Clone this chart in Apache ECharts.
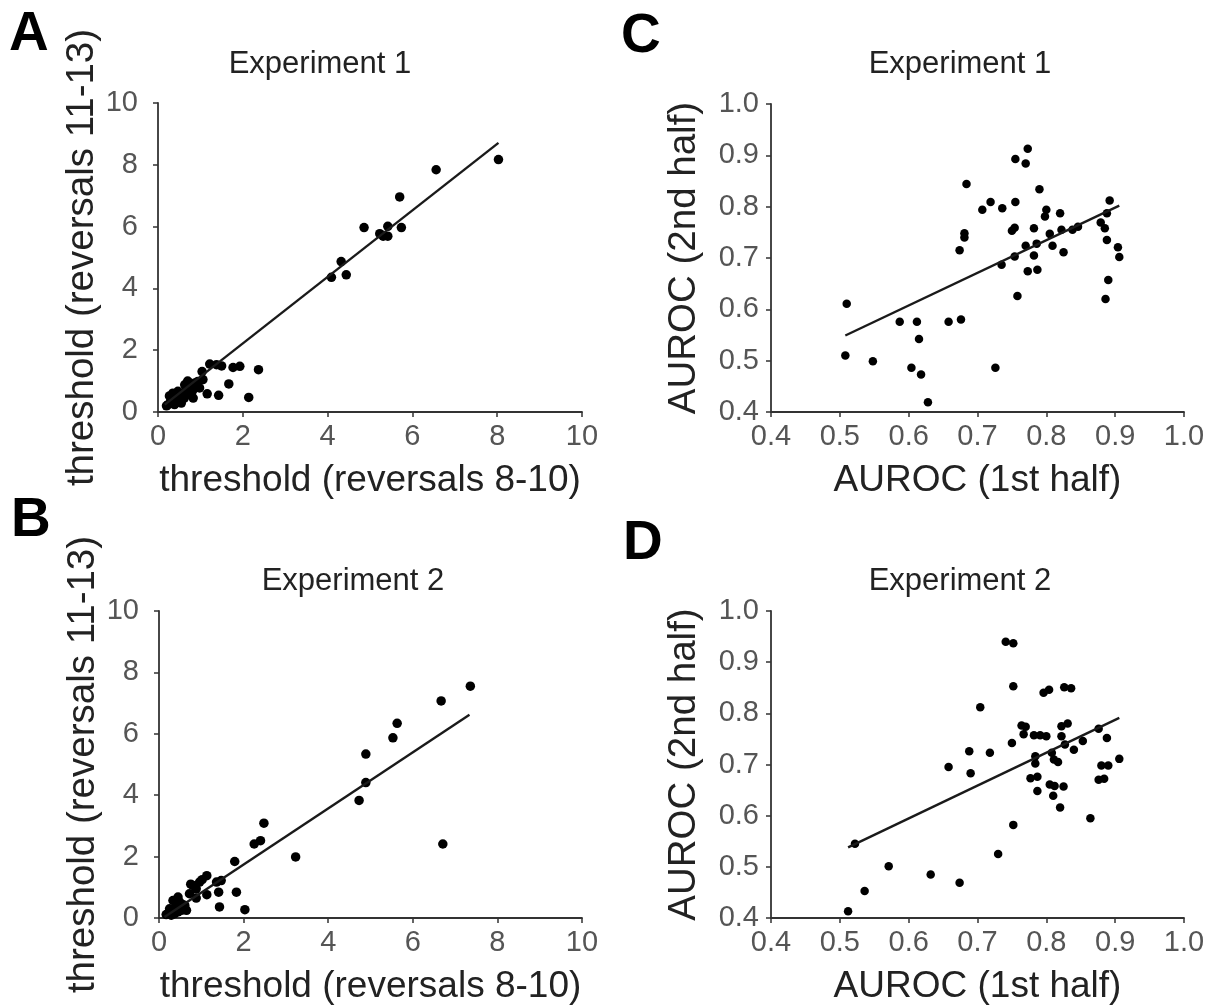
<!DOCTYPE html>
<html>
<head>
<meta charset="utf-8">
<script src="https://cdn.jsdelivr.net/npm/echarts@6/dist/echarts.min.js"></script>
<style>
html,body{margin:0;padding:0;background:#fff;}
#chart{width:1212px;height:1006px;}
</style>
</head>
<body>
<div id="chart"></div>
<script>
// ---------- DATA ----------
var panelLetters = ['A', 'B', 'C', 'D'];
var panelTitles = ['Experiment 1', 'Experiment 2', 'Experiment 1', 'Experiment 2'];
var thresholdTicks = [0, 2, 4, 6, 8, 10];
var aurocTicks = [0.4, 0.5, 0.6, 0.7, 0.8, 0.9, 1.0];
var xNameThreshold = 'threshold (reversals 8-10)';
var yNameThreshold = 'threshold (reversals 11-13)';
var xNameAuroc = 'AUROC (1st half)';
var yNameAuroc = 'AUROC (2nd half)';

// Panel A: threshold, Experiment 1
var pointsA = [
  [8.03,8.17],[6.56,7.84],[5.70,6.96],[4.86,5.97],[5.42,6.01],[5.74,5.97],[5.23,5.77],[5.31,5.69],
  [5.42,5.69],[4.32,4.87],[4.09,4.36],[4.44,4.44],
  [2.37,1.37],[1.93,1.48],[1.77,1.44],[1.67,0.91],[2.14,0.47],[1.43,0.54],[1.16,0.59],[1.22,1.55],
  [1.38,1.53],[1.50,1.49],[1.04,1.31],
  [0.24,0.24],[0.32,0.34],[0.35,0.61],[0.43,0.40],[0.51,0.51],[0.59,0.61],[0.63,0.88],[0.71,0.78],
  [0.75,0.94],[0.83,0.72],[0.87,0.94],[0.91,0.83],[0.94,0.99],[0.98,0.78],[0.83,0.45],[0.67,0.56],
  [0.55,0.29],[0.39,0.24],[0.79,0.61],[0.47,0.67],[0.30,0.45],[0.62,0.45],[1.06,1.05],[0.70,1.00],
  [0.20,0.20],[0.27,0.52]
];
var fitA = [[0.16,0.24],[8.03,8.71]];

// Panel B: threshold, Experiment 2
var pointsB = [
  [7.36,7.55],[6.67,7.07],[6.71,2.41],[5.63,6.34],[5.53,5.87],[4.89,5.34],[4.89,4.41],[4.73,3.83],
  [3.23,1.99],[2.48,3.09],[2.40,2.52],[2.25,2.41],[1.79,1.84],[1.83,0.84],[2.03,0.27],[1.43,0.36],
  [1.41,0.84],[1.47,1.22],[1.36,1.17],[1.13,1.38],[1.13,0.76],[0.96,1.17],[0.88,0.95],[0.80,1.06],
  [0.88,0.65],[0.72,0.79],[0.65,0.25],[0.57,0.43],[0.45,0.68],[0.33,0.57],[0.25,0.30],[0.17,0.11],
  [0.37,0.14],[0.53,0.25],[0.41,0.46],[0.29,0.09],[0.49,0.52],[0.61,0.41],[0.40,0.35],[0.45,0.20],
  [1.02,1.25],[0.75,1.10]
];
var fitB = [[0.13,0.03],[7.34,6.62]];

// Panel C: AUROC, Experiment 1
var pointsC = [
  [0.510,0.611],[0.508,0.510],[0.548,0.499],[0.587,0.576],[0.612,0.576],[0.615,0.542],[0.604,0.486],
  [0.618,0.473],[0.628,0.419],[0.658,0.576],[0.676,0.580],[0.684,0.844],[0.674,0.715],[0.681,0.748],
  [0.681,0.740],[0.707,0.794],[0.719,0.809],[0.736,0.797],[0.735,0.687],[0.726,0.486],[0.755,0.893],
  [0.770,0.884],[0.773,0.913],[0.755,0.809],[0.750,0.753],[0.754,0.759],[0.754,0.703],[0.758,0.626],
  [0.770,0.724],[0.773,0.674],[0.782,0.758],[0.782,0.705],[0.786,0.728],[0.787,0.677],[0.790,0.834],
  [0.798,0.781],[0.800,0.794],[0.805,0.747],[0.809,0.724],[0.820,0.787],[0.822,0.755],[0.825,0.711],
  [0.838,0.755],[0.846,0.761],[0.879,0.769],[0.885,0.758],[0.888,0.787],[0.892,0.812],[0.888,0.735],
  [0.890,0.657],[0.886,0.620],[0.904,0.721],[0.906,0.702]
];
var fitC = [[0.508,0.549],[0.906,0.802]];

// Panel D: AUROC, Experiment 2
var pointsD = [
  [0.512,0.413],[0.536,0.453],[0.522,0.545],[0.571,0.501],[0.632,0.485],[0.674,0.469],[0.658,0.695],
  [0.688,0.726],[0.690,0.683],[0.704,0.812],[0.718,0.723],[0.730,0.525],[0.741,0.940],[0.752,0.937],
  [0.752,0.853],[0.750,0.742],[0.752,0.582],[0.764,0.776],[0.770,0.774],[0.767,0.759],[0.782,0.757],
  [0.791,0.757],[0.800,0.755],[0.784,0.716],[0.784,0.702],[0.777,0.673],[0.787,0.676],[0.787,0.648],
  [0.796,0.840],[0.804,0.846],[0.808,0.723],[0.811,0.710],[0.817,0.705],[0.805,0.661],[0.812,0.658],
  [0.825,0.657],[0.810,0.639],[0.820,0.616],[0.826,0.851],[0.836,0.849],[0.822,0.775],[0.831,0.780],
  [0.822,0.755],[0.827,0.739],[0.840,0.729],[0.853,0.746],[0.864,0.595],[0.876,0.770],[0.888,0.752],
  [0.876,0.670],[0.884,0.672],[0.880,0.698],[0.890,0.698],[0.906,0.711]
];
var fitD = [[0.512,0.538],[0.906,0.791]];

// ---------- LAYOUT ----------
var FONT = '"Liberation Sans", Arial, Helvetica, sans-serif';
var grids = [
  {left: 158, top: 103, width: 424, height: 309},
  {left: 159, top: 611, width: 423, height: 308},
  {left: 771, top: 104, width: 413, height: 308},
  {left: 771, top: 611, width: 413, height: 308}
];
var panels = [
  {pts: pointsA, fit: fitA, ticks: thresholdTicks, xName: xNameThreshold, yName: yNameThreshold, kind: 't'},
  {pts: pointsB, fit: fitB, ticks: thresholdTicks, xName: xNameThreshold, yName: yNameThreshold, kind: 't'},
  {pts: pointsC, fit: fitC, ticks: aurocTicks, xName: xNameAuroc, yName: yNameAuroc, kind: 'a'},
  {pts: pointsD, fit: fitD, ticks: aurocTicks, xName: xNameAuroc, yName: yNameAuroc, kind: 'a'}
];

var axisLine = {show: true, lineStyle: {color: '#333', width: 1.8}};
var axisTick = {show: true, length: 5, lineStyle: {color: '#333', width: 1.5}};

function axisCfg(p, isX) {
  var t = p.ticks;
  var mn = t[0], mx = t[t.length - 1];
  var iv = +(t[1] - t[0]).toFixed(6);
  return {
    type: 'value',
    min: mn, max: mx, interval: iv,
    splitLine: {show: false},
    axisLine: axisLine,
    axisTick: axisTick,
    axisLabel: {
      color: '#555', fontSize: 29, fontFamily: FONT,
      margin: p.kind === 't' ? (isX ? 10 : 20) : (isX ? 10 : 12),
      showMinLabel: true, showMaxLabel: true,
      formatter: function (v) { return p.kind === 't' ? String(Math.round(v)) : v.toFixed(1); }
    },
    name: isX ? p.xName : p.yName,
    nameLocation: 'middle',
    nameGap: isX ? 50 : (p.kind === 't' ? 50 : 67),
    nameTextStyle: {color: '#222', fontSize: isX ? 37 : 38.5, fontFamily: FONT}
  };
}

var option = {
  backgroundColor: '#fff',
  animation: false,
  grid: grids.map(function (g) { return Object.assign({containLabel: false}, g); }),
  xAxis: panels.map(function (p, i) { return Object.assign({gridIndex: i}, axisCfg(p, true)); }),
  yAxis: panels.map(function (p, i) { return Object.assign({gridIndex: i}, axisCfg(p, false)); }),
  series: [],
  graphic: []
};

panels.forEach(function (p, i) {
  option.series.push({
    type: 'scatter', xAxisIndex: i, yAxisIndex: i,
    data: p.pts, symbolSize: p.kind === 't' ? 9.5 : 8.5,
    itemStyle: {color: '#000', opacity: 1}, silent: true
  });
  option.series.push({
    type: 'line', xAxisIndex: i, yAxisIndex: i,
    data: p.fit, showSymbol: false, symbol: 'none',
    lineStyle: {color: '#1a1a1a', width: 2.4}, silent: true
  });
});

var titlePos = [[320, 64], [353, 581], [960, 64], [960, 581]];
var letterPos = [[9, 35], [11, 521], [621, 37], [623, 544]];
titlePos.forEach(function (pos, i) {
  option.graphic.push({
    type: 'text', x: pos[0], y: pos[1], silent: true,
    style: {text: panelTitles[i], fill: '#222', fontSize: 31, fontFamily: FONT, align: 'center', verticalAlign: 'middle'}
  });
  option.graphic.push({
    type: 'text', x: letterPos[i][0], y: letterPos[i][1], silent: true,
    style: {text: panelLetters[i], fill: '#000', fontSize: 55, fontWeight: 'bold', fontFamily: FONT, align: 'left', verticalAlign: 'middle'}
  });
});

var chart = echarts.init(document.getElementById('chart'), null, {renderer: 'canvas'});
chart.setOption(option);
</script>
</body>
</html>
